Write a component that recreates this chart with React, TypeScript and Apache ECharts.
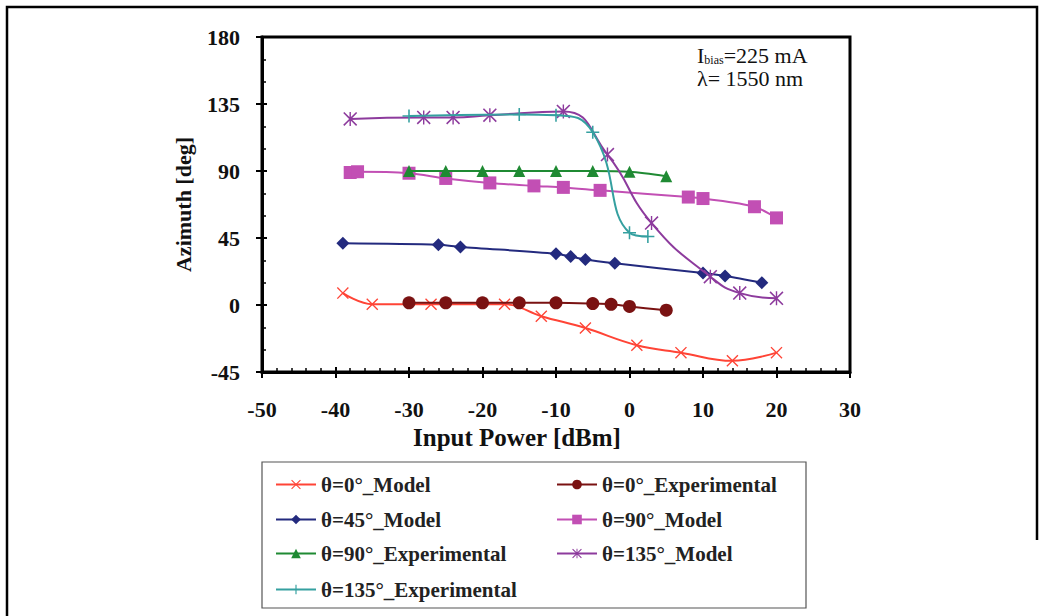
import React, { useEffect, useRef } from "react";
import * as echarts from "echarts";

const FONT = "Liberation Serif";

const names = [
  "θ=0°_Model",
  "θ=0°_Experimental",
  "θ=45°_Model",
  "θ=90°_Model",
  "θ=90°_Experimental",
  "θ=135°_Model",
  "θ=135°_Experimental",
];

const model0: number[][] = [
  [-39, 8], [-35, 0.5], [-27, 0.5], [-17, 0.5], [-12, -7.5], [-6, -15.5],
  [1, -27], [7, -32], [14, -37.5], [20, -32],
];
const exp0: number[][] = [
  [-30, 1.5], [-25, 1.5], [-20, 1.5], [-15, 1.5], [-10, 1.5], [-5, 1],
  [-2.5, 0.5], [0, -1], [5, -3.5],
];
const model45: number[][] = [
  [-39, 41.5], [-26, 40.5], [-23, 39], [-10, 34.5], [-8, 32.5], [-6, 30.5],
  [-2, 28], [10, 21.5], [13, 19.5], [18, 15],
];
const model90: number[][] = [
  [-38, 89], [-37, 89.5], [-30, 88.5], [-25, 85], [-19, 82], [-13, 80],
  [-9, 79], [-4, 77], [8, 72.5], [10, 71.5], [17, 66], [20, 58.5],
];
const exp90: number[][] = [
  [-30, 90], [-25, 90], [-20, 90], [-15, 90], [-10, 90], [-5, 90],
  [0, 89.5], [5, 86.5],
];
const model135: number[][] = [
  [-38, 125], [-28, 126], [-24, 126], [-19, 127.5], [-9, 130], [-3, 101],
  [3, 55], [11, 19], [15, 8], [20, 4.5],
];
const exp135: number[][] = [
  [-30, 127], [-15, 128], [-10, 127.5], [-5, 116], [0, 48.5], [2.5, 46],
];

const CROSS = "path://M0,8 L8,0 L50,42 L92,0 L100,8 L58,50 L100,92 L92,100 L50,58 L8,100 L0,92 L42,50 Z";
const PLUS = "path://M44,0 L56,0 L56,44 L100,44 L100,56 L56,56 L56,100 L44,100 L44,56 L0,56 L0,44 L44,44 Z";
const STAR = "path://M0,8 L8,0 L50,42 L92,0 L100,8 L58,50 L100,92 L92,100 L50,58 L8,100 L0,92 L42,50 Z M45,0 L55,0 L55,100 L45,100 Z";

const colors = ["#FF4436", "#7A1212", "#232A7E", "#C24FB4", "#1F8A33", "#8D3B9D", "#35A0A0"];

export default function App() {
  const ref = useRef<HTMLDivElement>(null);
  useEffect(() => {
    if (!ref.current) return;
    const chart = echarts.init(ref.current, null, { renderer: "svg" });
    const mk = (i: number, data: number[][], symbol: string, size: number, smooth: number | boolean) => ({
      type: "line",
      name: names[i],
      data,
      symbol,
      symbolSize: size,
      smooth,
      color: colors[i],
      lineStyle: { color: colors[i], width: 2 },
      itemStyle: { color: colors[i] },
      z: 3 + i,
    });
    const legendPos: number[][] = [
      [275, 474], [556, 474],
      [275, 509], [556, 509],
      [275, 543], [556, 543],
      [275, 579],
    ];
    const legends = names.map((n, i) => ({
      data: [n],
      left: legendPos[i][0],
      top: legendPos[i][1],
      padding: 0,
      itemWidth: 40,
      itemHeight: 12,
      itemGap: 4,
      textStyle: { fontFamily: FONT, fontWeight: "bold", fontSize: 21, color: "#222" },
    }));
    const tickLabel = { fontFamily: FONT, fontWeight: "bold", fontSize: 22, color: "#111" };
    chart.setOption({
      animation: false,
      backgroundColor: "#fff",
      grid: {
        left: 262, top: 37, width: 588, height: 335,
        show: true, borderColor: "#000", borderWidth: 3,
      },
      legend: legends,
      xAxis: [
        {
          type: "value", min: -50, max: 30, interval: 10, position: "bottom",
          axisLine: { show: true, onZero: false, lineStyle: { color: "#000", width: 3 } },
          axisTick: { show: true, inside: false, length: 6, lineStyle: { color: "#000", width: 2 } },
          splitLine: { show: false },
          axisLabel: { ...tickLabel, margin: 26 },
          name: "Input Power [dBm]",
          nameLocation: "middle",
          nameGap: 51,
          nameTextStyle: { fontFamily: FONT, fontWeight: "bold", fontSize: 25, color: "#111", verticalAlign: "top", padding: [0, 78, 0, 0] },
        },
        {
          type: "value", min: -50, max: 30, interval: 10, position: "bottom",
          axisLine: { show: false, onZero: false },
          axisTick: { show: true, inside: true, length: 5, lineStyle: { color: "#000", width: 2 } },
          minorTick: { show: true, splitNumber: 5, length: 4, lineStyle: { color: "#000", width: 1.5 } },
          splitLine: { show: false },
          axisLabel: { show: false },
        },
      ],
      yAxis: [
        {
          type: "value", min: -45, max: 180, interval: 45, position: "left",
          axisLine: { show: true, onZero: false, lineStyle: { color: "#000", width: 3 } },
          axisTick: { show: true, inside: false, length: 6, lineStyle: { color: "#000", width: 2 } },
          splitLine: { show: false },
          axisLabel: { ...tickLabel, margin: 22 },
          name: "Azimuth [deg]",
          nameLocation: "middle",
          nameGap: 68,
          nameTextStyle: { fontFamily: FONT, fontWeight: "bold", fontSize: 22, color: "#111" },
        },
        {
          type: "value", min: -45, max: 180, interval: 45, position: "left",
          axisLine: { show: false, onZero: false },
          axisTick: { show: true, inside: true, length: 5, lineStyle: { color: "#000", width: 2 } },
          minorTick: { show: true, splitNumber: 3, length: 4, lineStyle: { color: "#000", width: 1.5 } },
          splitLine: { show: false },
          axisLabel: { show: false },
        },
      ],
      graphic: [
        {
          type: "polyline",
          shape: { points: [[7, 616], [7, 7], [1037, 7], [1037, 540]] },
          style: { stroke: "#000", lineWidth: 2.5, fill: "none" },
          silent: true,
        },
        {
          type: "rect",
          shape: { x: 262, y: 462, width: 544, height: 146 },
          style: { stroke: "#555", lineWidth: 1.2, fill: "none" },
          silent: true,
          z: -1,
        },
        {
          type: "text",
          left: 697,
          top: 44,
          style: {
            text: "{a|I}{s|bias}{a|=225 mA}\n{a|λ= 1550 nm}",
            fontFamily: FONT,
            fontSize: 22,
            fill: "#111",
            rich: {
              a: { fontFamily: FONT, fontSize: 22, fill: "#111", lineHeight: 23 },
              s: { fontFamily: FONT, fontSize: 12, fill: "#111", lineHeight: 23, padding: [9, 0, 0, 0] },
            },
          },
        },
      ],
      series: [
        mk(0, model0, CROSS, 12, 0.4),
        mk(1, exp0, "circle", 13, 0.3),
        mk(2, model45, "diamond", 13, 0.3),
        mk(3, model90, "rect", 13, 0.3),
        mk(4, exp90, "triangle", 12, 0.3),
        mk(5, model135, STAR, 14, 0.5),
        mk(6, exp135, PLUS, 13, 0.5),
      ],
    });
    return () => chart.dispose();
  }, []);
  return (
    <div
      ref={ref}
      style={{ position: "absolute", left: 0, top: 0, width: 1045, height: 616 }}
    />
  );
}
